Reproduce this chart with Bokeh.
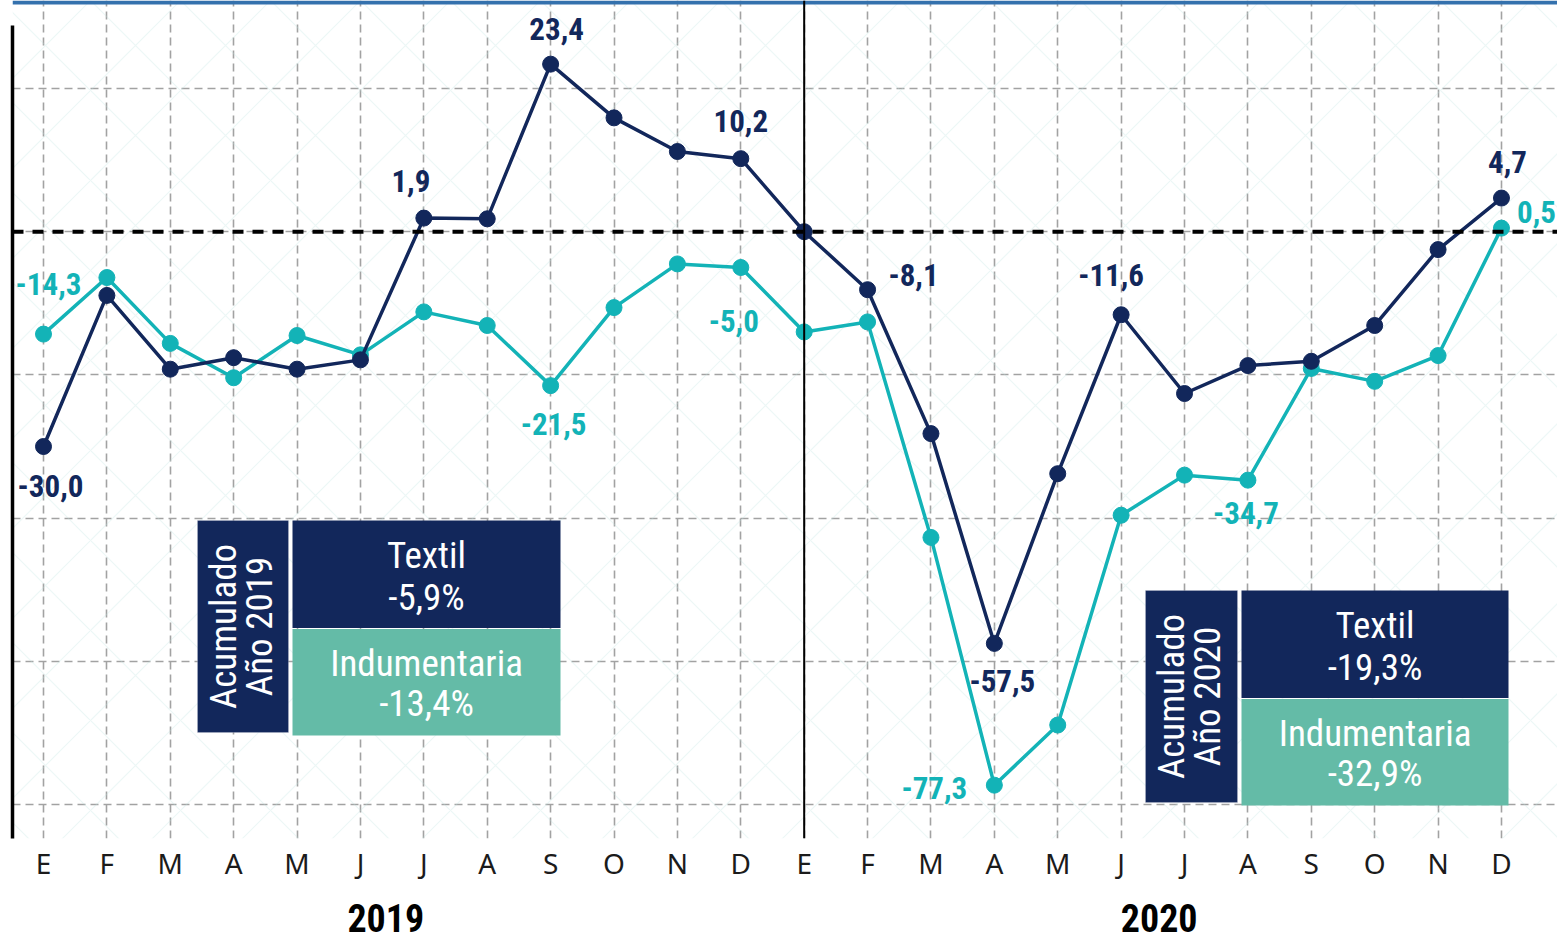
from bokeh.plotting import figure
from bokeh.models import (ColumnDataSource, FixedTicker, LinearAxis, Range1d,
                          Span, BoxAnnotation, Label)
from bokeh.core.properties import value
from bokeh.embed import file_html
from bokeh.resources import INLINE
import math

# ---------------- data ----------------
months = ["E", "F", "M", "A", "M", "J", "J", "A", "S", "O", "N", "D"] * 2
years = ["2019", "2020"]
textil = [-30.0, -8.9, -19.2, -17.6, -19.2, -17.9, 1.9, 1.8, 23.4, 15.9, 11.2, 10.2,
          0.0, -8.1, -28.2, -57.5, -33.8, -11.6, -22.6, -18.7, -18.1, -13.1, -2.5, 4.7]
indumentaria = [-14.3, -6.4, -15.6, -20.4, -14.5, -17.2, -11.2, -13.1, -21.5, -10.6, -4.5, -5.0,
                -14.0, -12.6, -42.7, -77.3, -68.9, -39.6, -34.0, -34.7, -19.1, -20.9, -17.3, 0.5]
textil_labelled = [0, 6, 8, 11, 13, 15, 17, 23]
indum_labelled = [0, 8, 11, 15, 19, 23]
acum_2019 = {"Textil": "-5,9%", "Indumentaria": "-13,4%"}
acum_2020 = {"Textil": "-19,3%", "Indumentaria": "-32,9%"}
y_grid = [20, 0, -20, -40, -60, -80]

# ---------------- style / layout ----------------
NAVY = "#12275b"
TEAL = "#13b3b7"
GREEN = "#64bba7"
LABEL_FONT = "Roboto Condensed, DejaVu Sans Condensed"
BOX_FONT = "Roboto Condensed, DejaVu Sans Condensed"

# label offsets (px, right / down) for each labelled point
textil_off = [(7, 39), (-13, -37), (6, -35), (0, -38), (46, -15), (8, 38), (-10, -40), (6, -36)]
indum_off = [(5, -50), (3, 38), (-7, 53), (-60, 3), (-2, 33), (35, -16)]

XPX0, XSTEP = 43.0, 63.39     # page px of first month, px per month
YPX0, YSTEP = 231.2, 7.16     # page px of zero, px per unit


def px2x(px):
    return (px - XPX0) / XSTEP


def px2y(py):
    return (YPX0 - py) / YSTEP


W, H = 1557, 941
p = figure(width=W, height=H, output_backend="svg", toolbar_location=None,
           x_range=Range1d(px2x(12), px2x(1557)), y_range=Range1d(px2y(838), px2y(0)),
           min_border_left=12, min_border_right=0, min_border_top=0, min_border_bottom=103,
           x_axis_location=None, y_axis_location=None)
p.outline_line_color = None
p.background_fill_color = "white"
p.border_fill_color = "white"

# faint background pattern
p.add_layout(BoxAnnotation(fill_alpha=0, line_alpha=0, hatch_pattern="diagonal_cross",
                           hatch_color="#bfe3e1", hatch_alpha=0.3, hatch_scale=90,
                           hatch_weight=1.2, level="underlay"))
# top accent bar
p.add_layout(BoxAnnotation(top=px2y(0), bottom=px2y(4), fill_color="#3471ad", fill_alpha=1,
                           line_color=None))

# grids
p.xgrid.ticker = FixedTicker(ticks=list(range(24)))
p.ygrid.ticker = FixedTicker(ticks=y_grid)
for g in (p.xgrid, p.ygrid):
    g.grid_line_color = "#a2a2a2"
    g.grid_line_dash = "8 5"
    g.grid_line_width = 1.6

# left axis line
yax = LinearAxis(ticker=FixedTicker(ticks=[]), axis_line_color="black", axis_line_width=3.5,
                 major_tick_line_color=None, minor_tick_line_color=None,
                 major_tick_out=0, major_tick_in=0,
                 major_label_text_font_size="0px", bounds=(px2y(838), px2y(25)))
p.add_layout(yax, "left")

# month axis
xax = LinearAxis(ticker=FixedTicker(ticks=list(range(24))),
                 major_label_overrides={i: m for i, m in enumerate(months)},
                 axis_line_color=None, major_tick_line_color=None, minor_tick_line_color=None,
                 major_tick_out=0, major_tick_in=0,
                 major_label_text_font="Noto Sans", major_label_text_font_size="28px",
                 major_label_text_color="#1b1b1b", major_label_standoff=5)
p.add_layout(xax, "below")
# year axis
yrax = LinearAxis(ticker=FixedTicker(ticks=[5.4, 17.6]),
                  major_label_overrides={5.4: years[0], 17.6: years[1]},
                  axis_line_color=None, major_tick_line_color=None, minor_tick_line_color=None,
                  major_tick_out=0, major_tick_in=0,
                  major_label_text_font=LABEL_FONT, major_label_text_font_style="bold",
                  major_label_text_font_size="38px", major_label_text_color="black",
                  major_label_standoff=19)
p.add_layout(yrax, "below")

# zero line and year divider
p.add_layout(Span(location=0, dimension="width", line_color="black", line_width=4,
                  line_dash="11 9"))
p.add_layout(Span(location=12, dimension="height", line_color="black", line_width=2))

# series
x = list(range(24))
src = ColumnDataSource(dict(x=x, textil=textil, ind=indumentaria))
p.line("x", "ind", source=src, line_color=TEAL, line_width=3.5)
p.scatter("x", "ind", source=src, size=16, fill_color=TEAL, line_color=TEAL)
p.line("x", "textil", source=src, line_color=NAVY, line_width=3.5)
p.scatter("x", "textil", source=src, size=16, fill_color=NAVY, line_color=NAVY)


def fmt(v):
    return f"{v:.1f}".replace(".", ",")


def add_labels(series, idxs, offs, color):
    s = ColumnDataSource(dict(
        x=[i for i in idxs], y=[series[i] for i in idxs],
        t=[fmt(series[i]) for i in idxs],
        dx=[o[0] for o in offs], dy=[o[1] for o in offs]))
    p.text("x", "y", text="t", source=s, x_offset="dx", y_offset="dy",
           text_align="center", text_baseline="middle", text_color=color,
           text_font=value(LABEL_FONT), text_font_style="bold", text_font_size="31px")


add_labels(textil, textil_labelled, textil_off, NAVY)
add_labels(indumentaria, indum_labelled, indum_off, TEAL)


# summary boxes
def summary(year, vals, acum_px, box_px):
    ax0, ax1, ay0, ay1 = acum_px
    bx0, bx1, by0, by1 = box_px
    bmid = (by0 + by1) / 2
    p.add_layout(BoxAnnotation(left=px2x(ax0), right=px2x(ax1), top=px2y(ay0), bottom=px2y(ay1),
                               fill_color=NAVY, fill_alpha=1, line_color="#c8cbd6", line_width=1,
                               level="overlay"))
    p.add_layout(BoxAnnotation(left=px2x(bx0), right=px2x(bx1), top=px2y(by0), bottom=px2y(bmid),
                               fill_color=NAVY, fill_alpha=1, line_color=None, level="overlay"))
    p.add_layout(BoxAnnotation(left=px2x(bx0), right=px2x(bx1), top=px2y(bmid + 1), bottom=px2y(by1),
                               fill_color=GREEN, fill_alpha=1, line_color=None, level="overlay"))
    acx = (ax0 + ax1) / 2
    acy = (ay0 + ay1) / 2
    for txt, dxp in (("Acumulado", -20), (f"Año {year}", 16)):
        p.add_layout(Label(x=px2x(acx + dxp), y=px2y(acy), text=txt, angle=math.pi / 2,
                           text_align="center", text_baseline="middle", text_color="white",
                           text_font=BOX_FONT, text_font_size="37px", level="overlay"))
    bcx = (bx0 + bx1) / 2
    h = (by1 - by0) / 2
    rows = [("Textil", by0 + h * 0.33), (vals["Textil"], by0 + h * 0.72),
            ("Indumentaria", bmid + h * 0.33), (vals["Indumentaria"], bmid + h * 0.70)]
    for txt, yy in rows:
        p.add_layout(Label(x=px2x(bcx), y=px2y(yy), text=txt,
                           text_align="center", text_baseline="middle", text_color="white",
                           text_font=BOX_FONT, text_font_size="37px", level="overlay"))


summary(2019, acum_2019, (197, 288, 520, 732), (292, 560, 520, 735))
summary(2020, acum_2020, (1145, 1237, 590, 802), (1241, 1508, 590, 805))

open("out.html", "w").write(file_html(p, INLINE))
